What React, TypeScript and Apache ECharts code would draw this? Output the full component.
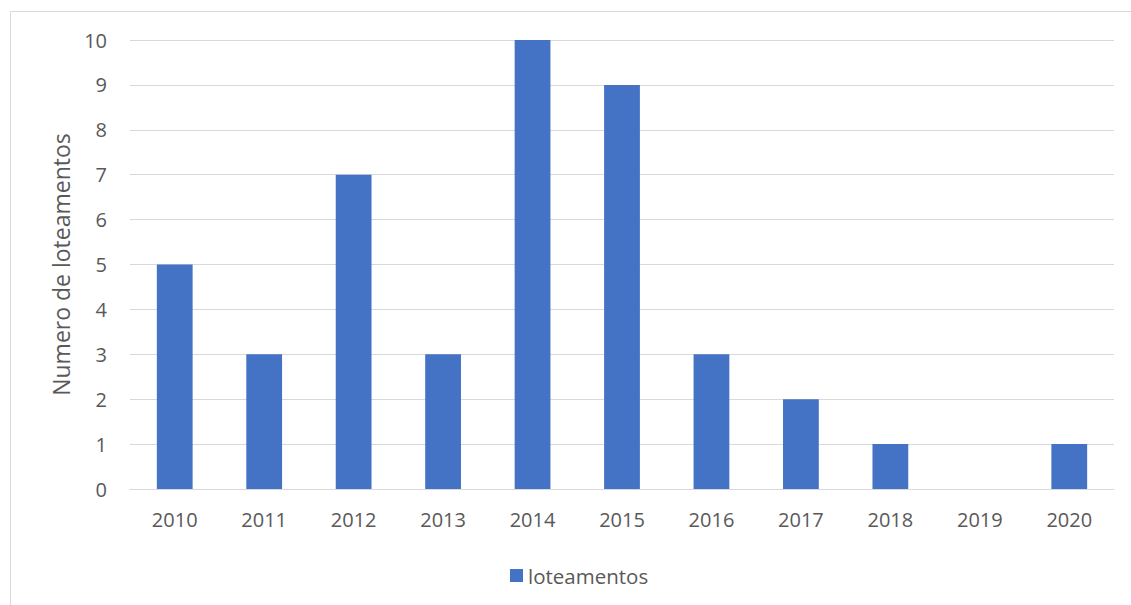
import React, { useEffect, useRef } from "react";
import * as echarts from "echarts";

const categories = ["2010", "2011", "2012", "2013", "2014", "2015", "2016", "2017", "2018", "2019", "2020"];
const values = [5, 3, 7, 3, 10, 9, 3, 2, 1, 0, 1];
const seriesName = "loteamentos";
const yAxisTitle = "Numero de loteamentos";

const FONT = "'Open Sans', sans-serif";
const TEXT = "#595959";

export default function App() {
  const ref = useRef<HTMLDivElement>(null);
  useEffect(() => {
    if (!ref.current) return;
    const chart = echarts.init(ref.current, undefined, { renderer: "svg" });
    chart.setOption({
      animation: false,
      backgroundColor: "#ffffff",
      textStyle: { fontFamily: FONT, color: TEXT },
      graphic: [
        {
          type: "rect",
          shape: { x: 10.5, y: 11.5, width: 1200, height: 700 },
          style: { fill: "none", stroke: "#d9d9d9", lineWidth: 1 },
          silent: true,
        },
      ],
      grid: { left: 130, right: 17, top: 40, bottom: 116, containLabel: false },
      legend: {
        data: [seriesName],
        left: 505,
        top: 560,
        itemWidth: 13,
        itemHeight: 13,
        icon: "rect",
        itemGap: 8,
        textStyle: { fontFamily: FONT, fontSize: 20.5, color: TEXT },
      },
      xAxis: {
        type: "category",
        data: categories,
        axisLine: { lineStyle: { color: "#d9d9d9", width: 1 } },
        axisTick: { show: false },
        axisLabel: { fontFamily: FONT, fontSize: 20, color: TEXT, margin: 20 },
      },
      yAxis: {
        type: "value",
        min: 0,
        max: 10,
        interval: 1,
        name: yAxisTitle,
        nameLocation: "middle",
        nameGap: 58,
        nameTextStyle: { fontFamily: FONT, fontSize: 23, color: TEXT },
        axisLine: { show: false },
        axisTick: { show: false },
        splitLine: { lineStyle: { color: "#d9d9d9", width: 1 } },
        axisLabel: { fontFamily: FONT, fontSize: 20, color: TEXT, margin: 23 },
      },
      series: [
        {
          name: seriesName,
          type: "bar",
          data: values,
          barWidth: "40%",
          itemStyle: { color: "#4472c4" },
        },
      ],
    });
    return () => chart.dispose();
  }, []);
  return (
    <div
      ref={ref}
      style={{ position: "fixed", left: 0, top: 0, width: 1131, height: 605 }}
    />
  );
}
